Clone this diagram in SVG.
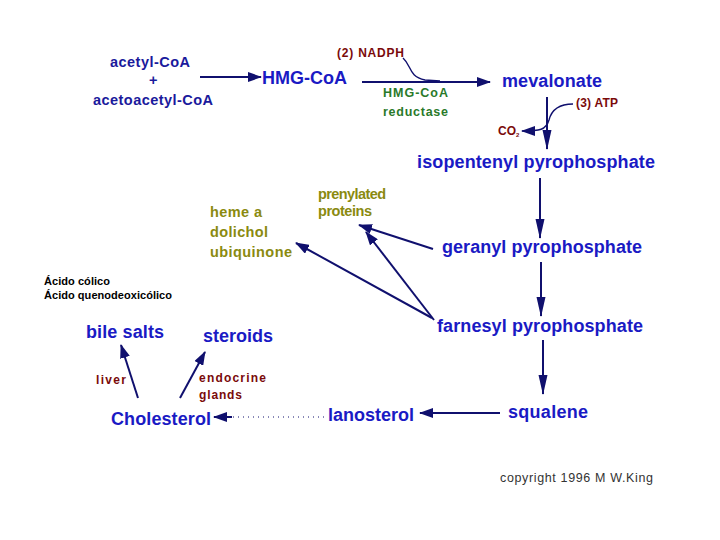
<svg xmlns="http://www.w3.org/2000/svg" width="720" height="540" viewBox="0 0 720 540">
<defs>
<style>
text{font-family:"Liberation Sans",Arial,sans-serif;font-weight:bold}
.b{fill:#1a1ac4;font-size:18px}
.s{fill:#1a1a9c;font-size:14.5px}
.r{fill:#7a0a0a;font-size:12px}
.g{fill:#2a7a2a;font-size:12.5px}
.o{fill:#8a8a10;font-size:14.5px}
.k{fill:#000;font-size:11px}
.c{fill:#333;font-size:12.5px;font-weight:normal}
.ln{stroke:#10106e;stroke-width:2;fill:none}
.th{stroke:#10106e;stroke-width:1.4;fill:none}
</style>
<marker id="ah" markerWidth="14" markerHeight="10" refX="13" refY="5" orient="auto" markerUnits="userSpaceOnUse">
<path d="M0,0 L14,5 L0,10 Z" fill="#10106e"/>
</marker>
<marker id="av" markerWidth="20" markerHeight="10" refX="19" refY="5" orient="auto" markerUnits="userSpaceOnUse">
<path d="M0,0.5 L20,5 L0,9.5 Z" fill="#10106e"/>
</marker>
</defs>
<rect width="720" height="540" fill="#fff"/>
<g id="connectors">
<line class="ln" x1="200" y1="77" x2="261" y2="77" marker-end="url(#ah)"/>
<line class="ln" x1="362" y1="82" x2="490" y2="82" marker-end="url(#ah)"/>
<path class="th" d="M403,58 C412,66 408,76 425,80 L440,81"/>
<line class="ln" x1="547" y1="97" x2="547" y2="149" marker-end="url(#av)"/>
<path class="th" d="M573,104 C556,104 551,112 549,120 C546,130 540,131 522,131" marker-end="url(#ah)"/>
<line class="ln" x1="540" y1="178" x2="540" y2="238" marker-end="url(#av)"/>
<line class="ln" x1="541" y1="262" x2="541" y2="316" marker-end="url(#av)"/>
<line class="ln" x1="543" y1="340" x2="543" y2="394" marker-end="url(#av)"/>
<line class="ln" x1="500" y1="413" x2="420" y2="413" marker-end="url(#ah)"/>
<line stroke="#10106e" stroke-width="1" stroke-dasharray="1,4" x1="324" y1="417" x2="232" y2="417"/>
<line class="ln" x1="232" y1="417" x2="214" y2="417" marker-end="url(#ah)"/>
<line class="ln" x1="138" y1="398" x2="121" y2="345" marker-end="url(#ah)"/>
<line class="ln" x1="180" y1="398" x2="205" y2="352" marker-end="url(#ah)"/>
<line class="ln" x1="433" y1="249" x2="359" y2="225" marker-end="url(#ah)"/>
<line class="ln" x1="434" y1="320" x2="366" y2="232" marker-end="url(#ah)"/>
<line class="ln" x1="432" y1="318" x2="296" y2="243" marker-end="url(#ah)"/>
</g>
<g id="substrates">
<text class="s" x="110" y="67" textLength="80">acetyl-CoA</text>
<text class="s" x="149" y="85">+</text>
<text class="s" x="93" y="105" textLength="120">acetoacetyl-CoA</text>
</g>
<g id="hmgcoa"><text class="b" x="262" y="84" textLength="85">HMG-CoA</text></g>
<g id="nadph"><text class="r" x="337" y="57" textLength="67">(2) NADPH</text></g>
<g id="reductase">
<text class="g" x="383" y="97" textLength="65">HMG-CoA</text>
<text class="g" x="383" y="116" textLength="65">reductase</text>
</g>
<g id="mevalonate"><text class="b" x="502" y="87" textLength="100">mevalonate</text></g>
<g id="atp"><text class="r" x="576" y="107" textLength="42">(3) ATP</text></g>
<g id="co2"><text class="r" x="498" y="135" font-size="11">CO<tspan font-size="6" dy="2">2</tspan></text></g>
<g id="ipp"><text class="b" x="417" y="168" textLength="238">isopentenyl pyrophosphate</text></g>
<g id="gpp"><text class="b" x="442" y="253" textLength="200">geranyl pyrophosphate</text></g>
<g id="fpp"><text class="b" x="437" y="332" textLength="206">farnesyl pyrophosphate</text></g>
<g id="squalene"><text class="b" x="508" y="418" textLength="80">squalene</text></g>
<g id="lanosterol"><text class="b" x="328" y="421" textLength="86">lanosterol</text></g>
<g id="cholesterol"><text class="b" x="111" y="425" textLength="100">Cholesterol</text></g>
<g id="bilesalts"><text class="b" x="86" y="338" textLength="78">bile salts</text></g>
<g id="steroids"><text class="b" x="203" y="342" textLength="70">steroids</text></g>
<g id="liver"><text class="r" x="96" y="384" font-size="13" textLength="30">liver</text></g>
<g id="endocrine">
<text class="r" x="199" y="382" font-size="13" textLength="67">endocrine</text>
<text class="r" x="199" y="399" font-size="13" textLength="43">glands</text>
</g>
<g id="acids">
<text class="k" x="44" y="285" textLength="66">Ácido cólico</text>
<text class="k" x="44" y="299" textLength="128">Ácido quenodeoxicólico</text>
</g>
<g id="heme">
<text class="o" x="210" y="217" textLength="52">heme a</text>
<text class="o" x="210" y="237" textLength="58">dolichol</text>
<text class="o" x="210" y="257" textLength="82">ubiquinone</text>
</g>
<g id="prenylated">
<text class="o" x="318" y="199" font-size="12" textLength="68">prenylated</text>
<text class="o" x="318" y="216" font-size="12" textLength="54">proteins</text>
</g>
<g id="copyright"><text class="c" x="500" y="482" textLength="153">copyright 1996 M W.King</text></g>
</svg>
